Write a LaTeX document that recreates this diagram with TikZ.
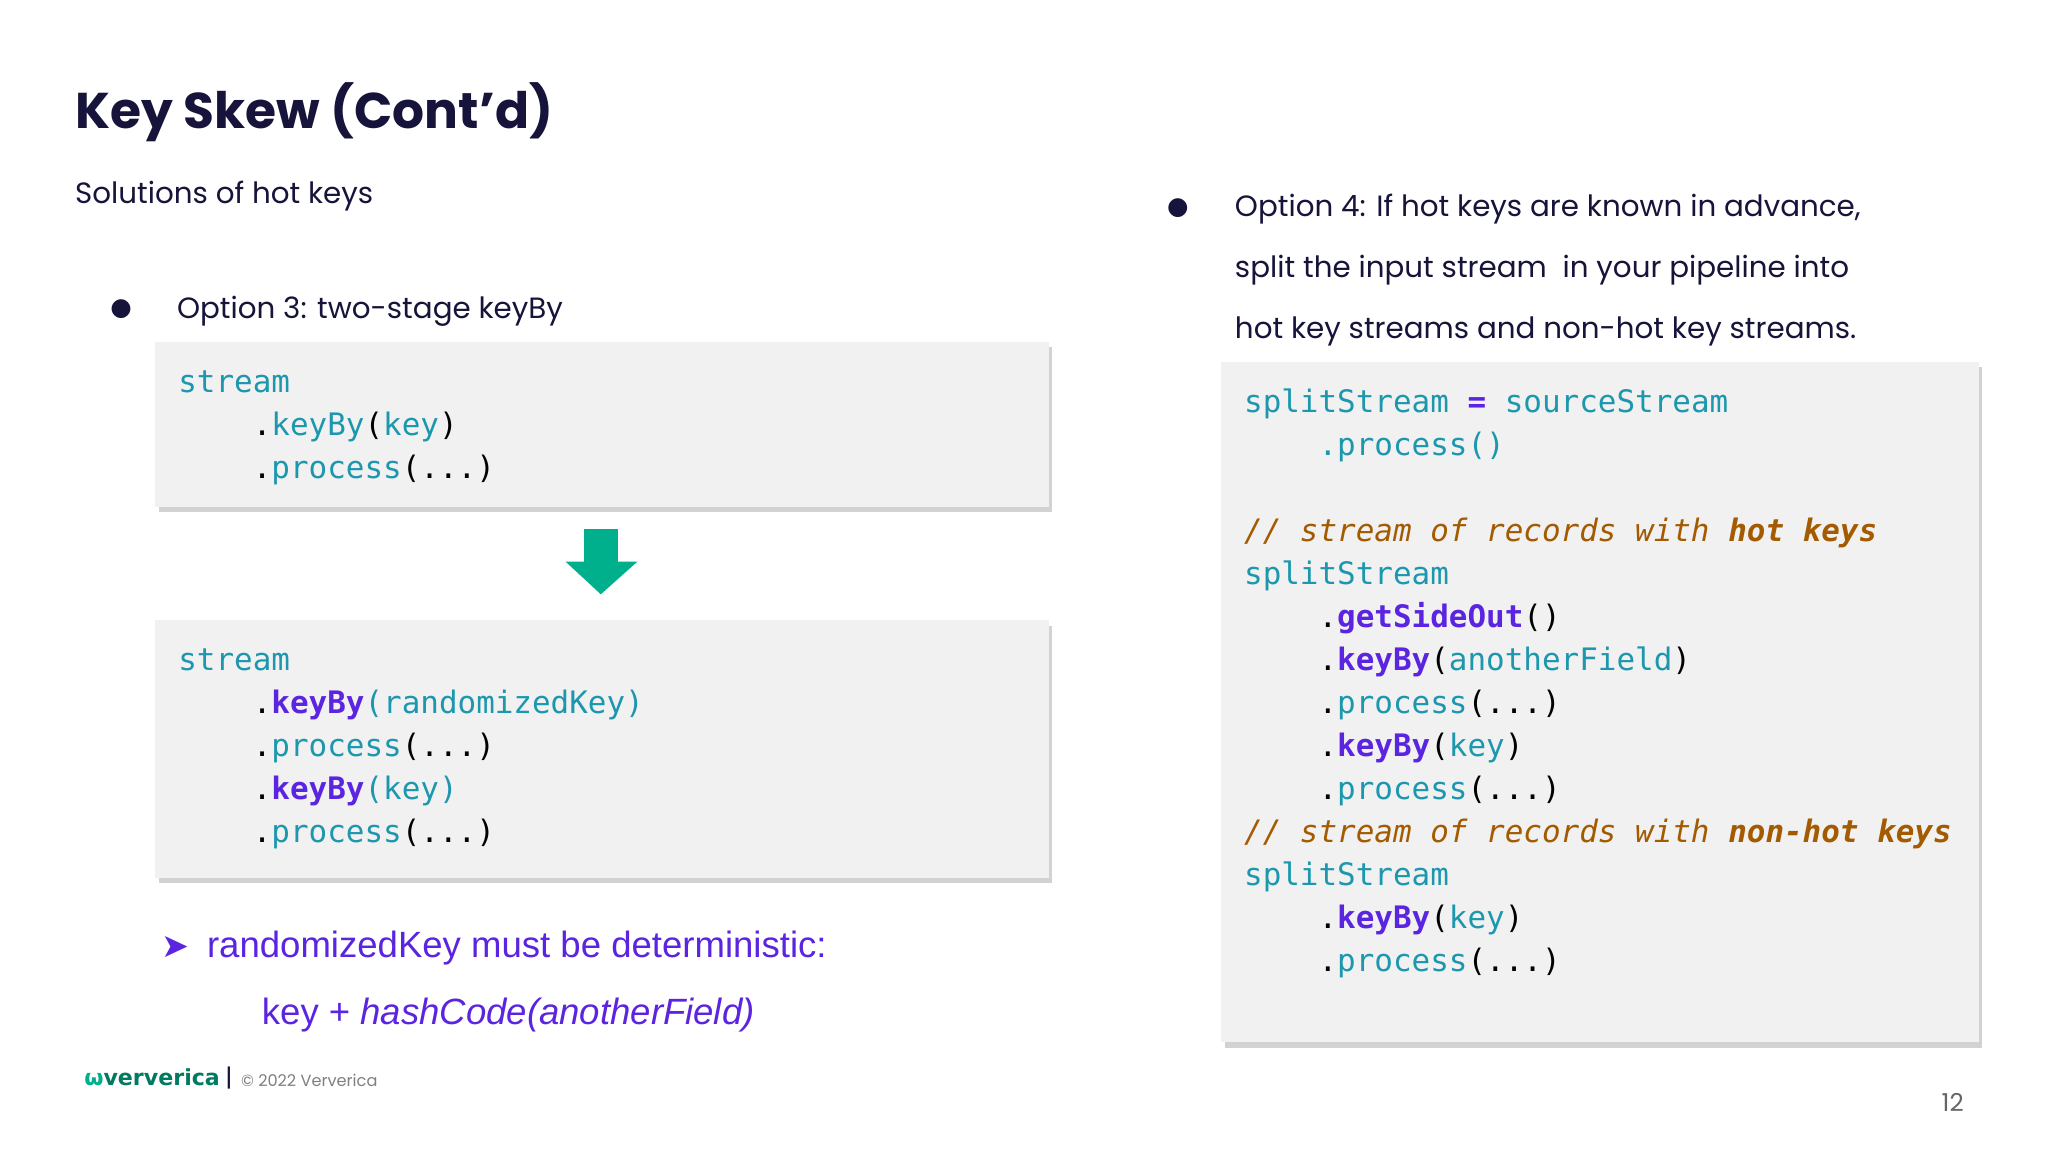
\documentclass[tikz,border=0pt]{standalone}
\usepackage{fontspec}
\setmainfont{Poppins}
\setmonofont{DejaVu Sans Mono}
\newfontfamily\arialf{Liberation Sans}
\newfontfamily\symf{DejaVu Sans}
\usetikzlibrary{shadows}
\definecolor{tl}{HTML}{1C97AE}
\definecolor{pp}{HTML}{5B24E0}
\definecolor{cm}{HTML}{A35A00}
\definecolor{gr}{HTML}{00B08C}
\definecolor{ttl}{HTML}{16143A}
\definecolor{bx}{HTML}{F1F1F1}
\newcommand{\kt}[1]{\textcolor{tl}{#1}}
\newcommand{\kb}[1]{\textcolor{pp}{\bfseries #1}}
\newcommand{\kc}[1]{\textcolor{cm}{\itshape #1}}
\tikzset{
 codebox/.style={fill=bx,draw=none,drop shadow={shadow xshift=1pt,shadow yshift=-1.5pt,fill=black!35}},
 code/.style={anchor=north west,align=left,inner sep=0pt,font=\ttfamily\fontsize{8.8}{12.25}\selectfont},
 body/.style={anchor=west,inner sep=0pt,font=\fontsize{8.35}{9}\selectfont,text=ttl},
}
\begin{document}
\begin{tikzpicture}[x=0.013061cm,y=-0.013061cm]
\useasboundingbox[fill=white] (0,0) rectangle (1568,882);
\node[anchor=west,inner sep=0pt,font=\bfseries\fontsize{14.3}{18}\selectfont,text=ttl] (title) at (57,86) {Key Skew (Cont’d)};
\node[body] (sub) at (57,150) {Solutions of hot keys};
\node[body,font=\symf\fontsize{7}{9}\selectfont] (b3) at (84,237) {●};
\node[body] (o3) at (135,238) {Option 3: two-stage keyBy};
\node[body,font=\symf\fontsize{7}{9}\selectfont] (b4) at (893,159) {●};
\node[body,align=left,anchor=north west,font=\fontsize{8.35}{17.4}\selectfont] (o4) at (945,148) {Option 4: If hot keys are known in advance,\\split the input stream\ \ in your pipeline into\\hot key streams and non-hot key streams.};
\fill[codebox] (119,262) rectangle (803,388);
\node[code] (c1) at (136,283) {\kt{stream}\\\phantom{....}.\kt{keyBy}(\kt{key})\\\phantom{....}.\kt{process}(...)};
\fill[gr] (447,405) rectangle (473,431);
\fill[gr] (433,430) -- (488,430) -- (460,455) -- cycle;
\fill[codebox] (119,475) rectangle (803,672);
\node[code] (c2) at (136,496) {\kt{stream}\\\phantom{....}.\kb{keyBy}\kt{(randomizedKey)}\\\phantom{....}.\kt{process}(...)\\\phantom{....}.\kb{keyBy}\kt{(key)}\\\phantom{....}.\kt{process}(...)};
\node[anchor=west,inner sep=0pt,text=pp,font=\symf\fontsize{9.5}{10}\selectfont] (arr) at (123,725) {➤};
\node[anchor=west,inner sep=0pt,text=pp,font=\arialf\fontsize{10.4}{12}\selectfont] (rk) at (158,726) {randomizedKey must be deterministic:};
\node[anchor=west,inner sep=0pt,text=pp,font=\arialf\fontsize{10.4}{12}\selectfont] (hc) at (200,777) {key + \textit{hashCode(anotherField)}};
\fill[codebox] (935,277) rectangle (1515,798);
\node[code] (c3) at (952,297) {\kt{splitStream} \textcolor{pp}{\bfseries =} \kt{sourceStream}\\\phantom{....}\kt{.process()}\\[12.25pt]
\kc{// stream of records with {\bfseries hot keys}}\\\kt{splitStream}\\
\phantom{....}.\kb{getSideOut}()\\\phantom{....}.\kb{keyBy}(\kt{anotherField})\\\phantom{....}.\kt{process}(...)\\\phantom{....}.\kb{keyBy}(\kt{key})\\\phantom{....}.\kt{process}(...)\\
\kc{// stream of records with {\bfseries non-hot keys}}\\\kt{splitStream}\\\phantom{....}.\kb{keyBy}(\kt{key})\\\phantom{....}.\kt{process}(...)};
\node[anchor=west,inner sep=0pt,font=\bfseries\fontsize{6.3}{8}\selectfont] (logo) at (64,825) {\symf\textcolor{gr}{ѡ}\textcolor{gr!70!black}{ververica}};
\node[anchor=west,inner sep=0pt,font=\fontsize{4.6}{6}\selectfont,text=gray] (copy) at (172,825) {\textcolor{ttl}{\fontsize{7}{8}\selectfont|}\ \ © 2022 Ververica};
\node[inner sep=0pt,font=\fontsize{7}{8}\selectfont,text=gray!80!black] (pg) at (1495,844) {12};
\end{tikzpicture}
\end{document}
